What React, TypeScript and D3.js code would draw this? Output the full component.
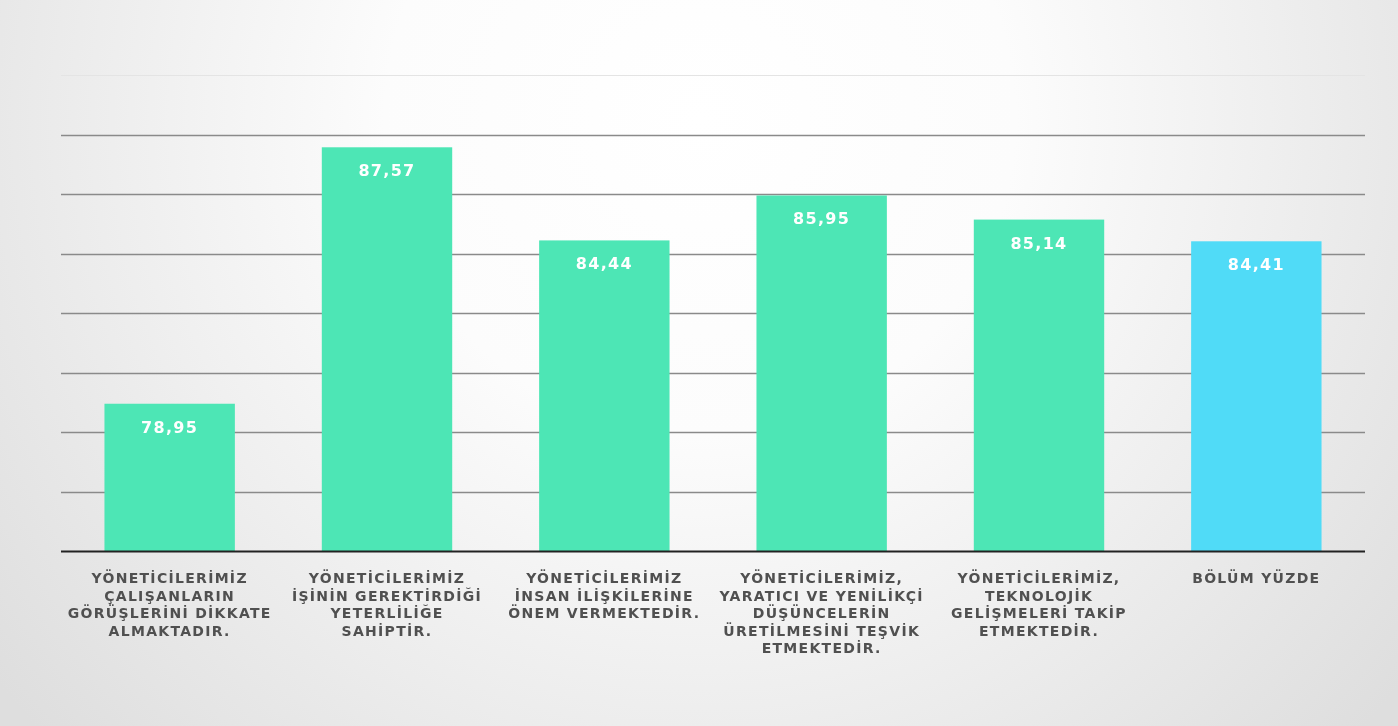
import { useEffect, useRef } from 'react';
import * as d3 from 'd3';

// kategori etiketleri (satır sonları resimdeki gibi)
const categories: string[] = [
    'YÖNETİCİLERİMİZ\nÇALIŞANLARIN\nGÖRÜŞLERİNİ DİKKATE\nALMAKTADIR.',
    'YÖNETİCİLERİMİZ\nİŞİNİN GEREKTİRDİĞİ\nYETERLİLİĞE\nSAHİPTİR.',
    'YÖNETİCİLERİMİZ\nİNSAN İLİŞKİLERİNE\nÖNEM VERMEKTEDİR.',
    'YÖNETİCİLERİMİZ,\nYARATICI VE YENİLİKÇİ\nDÜŞÜNCELERİN\nÜRETİLMESİNİ TEŞVİK\nETMEKTEDİR.',
    'YÖNETİCİLERİMİZ,\nTEKNOLOJİK\nGELİŞMELERİ TAKİP\nETMEKTEDİR.',
    'BÖLÜM YÜZDE',
];
const values: number[] = [78.95, 87.57, 84.44, 85.95, 85.14, 84.41];
const gridTicks: number[] = [74, 76, 78, 80, 82, 84, 86, 88, 90];

const App = () => {
    const svgRef = useRef<SVGSVGElement>(null);

    useEffect(() => {
        if (!svgRef.current) return;
        d3.select(svgRef.current).selectAll('*').remove();

        const width = 1398;
        const height = 726;
        const svg = d3.select(svgRef.current)
            .attr('width', width)
            .attr('height', height);

        // arka plan gradyanı
        const defs = svg.append('defs');
        const grad = defs.append('radialGradient')
            .attr('id', 'bg')
            .attr('gradientUnits', 'userSpaceOnUse')
            .attr('cx', 700).attr('cy', 120).attr('r', 900);
        grad.append('stop').attr('offset', '0%').attr('stop-color', '#ffffff');
        grad.append('stop').attr('offset', '35%').attr('stop-color', '#fcfcfc');
        grad.append('stop').attr('offset', '100%').attr('stop-color', '#dedede');

        svg.append('rect')
            .attr('width', width).attr('height', height)
            .attr('fill', 'url(#bg)');

        const x = d3.scaleBand<number>()
            .domain(d3.range(values.length))
            .range([61, 1365])
            .paddingInner(0.4)
            .paddingOuter(0.2);

        const y = d3.scaleLinear()
            .domain([74, 90])
            .range([551, 75]);

        // yatay çizgiler
        svg.append('g')
            .selectAll('line')
            .data(gridTicks.slice(1))
            .enter()
            .append('line')
            .attr('x1', 61).attr('x2', 1365)
            .attr('y1', d => Math.round(y(d)) + 0.5)
            .attr('y2', d => Math.round(y(d)) + 0.5)
            .attr('stroke', d => d === 90 ? '#e4e4e4' : '#8a8a8a')
            .attr('stroke-width', d => d === 90 ? 1 : 1.3);

        // çubuklar
        svg.append('g')
            .selectAll('rect')
            .data(values)
            .enter()
            .append('rect')
            .attr('x', (_, i) => x(i) || 0)
            .attr('y', d => y(d))
            .attr('width', x.bandwidth())
            .attr('height', d => y(74) - y(d))
            .attr('fill', (_, i) => i === values.length - 1 ? '#50dbf7' : '#4de6b5');

        // eksen çizgisi
        svg.append('line')
            .attr('x1', 61).attr('x2', 1365)
            .attr('y1', y(74) + 0.5).attr('y2', y(74) + 0.5)
            .attr('stroke', '#222')
            .attr('stroke-width', 2);

        // değer etiketleri
        svg.append('g')
            .selectAll('text')
            .data(values)
            .enter()
            .append('text')
            .attr('x', (_, i) => (x(i) || 0) + x.bandwidth() / 2)
            .attr('y', d => y(d) + 29)
            .attr('text-anchor', 'middle')
            .attr('font-family', 'DejaVu Sans')
            .attr('font-size', '16px')
            .attr('font-weight', 'bold')
            .attr('letter-spacing', '1.3px')
            .attr('fill', '#ffffff')
            .text(d => d.toFixed(2).replace('.', ','));

        // kategori etiketleri
        const labels = svg.append('g')
            .selectAll('text')
            .data(categories)
            .enter()
            .append('text')
            .attr('x', (_, i) => (x(i) || 0) + x.bandwidth() / 2)
            .attr('y', 583)
            .attr('text-anchor', 'middle')
            .attr('font-family', 'DejaVu Sans')
            .attr('font-size', '14px')
            .attr('font-weight', 'bold')
            .attr('letter-spacing', '1.3px')
            .attr('fill', '#505050');

        labels.each(function (d) {
            const t = d3.select(this);
            d.split('\n').forEach((line, j) => {
                t.append('tspan')
                    .attr('x', t.attr('x'))
                    .attr('dy', j === 0 ? 0 : 17.5)
                    .text(line);
            });
        });
    }, []);

    return (
        <div style={{ position: 'fixed', left: 0, top: 0 }}>
            <svg ref={svgRef} style={{ display: 'block' }}></svg>
        </div>
    );
};

export default App;
